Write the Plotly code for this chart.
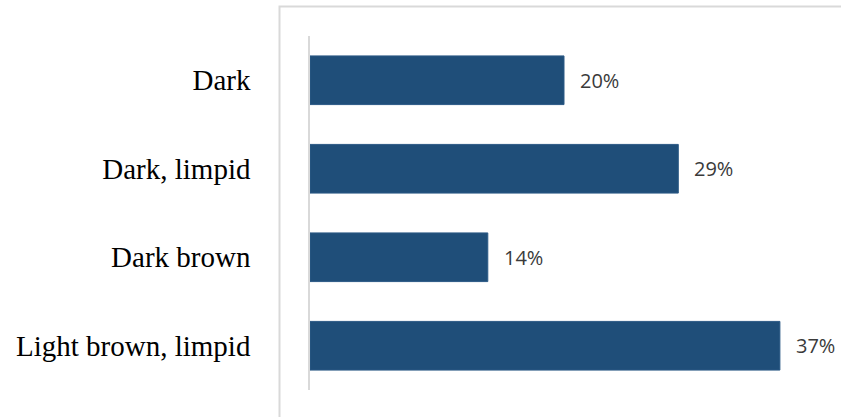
import plotly.graph_objects as go

# Colour categories and their shares (percent)
categories = ["Dark", "Dark, limpid", "Dark brown", "Light brown, limpid"]
shares = [20, 29, 14, 37]
labels = [f"{v}%" for v in shares]

BAR_COLOR = "#1F4E79"
GRID_GRAY = "#D9D9D9"

W, H = 841, 417
L, R, T, B = 310, 23, 36, 27
plot_w = W - L - R
plot_h = H - T - B

fig = go.Figure(
    go.Bar(
        x=shares,
        y=categories,
        orientation="h",
        marker=dict(color=BAR_COLOR, line=dict(color="#2C5A86", width=1)),
        hoverinfo="skip",
    )
)

# Percentage labels to the right of each bar
for cat, val, lab in zip(categories, shares, labels):
    fig.add_annotation(
        x=val, y=cat, text=lab, showarrow=False,
        xanchor="left", yanchor="middle", xshift=14,
        font=dict(family="Open Sans", size=20, color="#3A3A3A"),
    )

# Light frame around the chart area
fig.add_shape(
    type="rect", xref="paper", yref="paper",
    x0=(279.5 - L) / plot_w, x1=1.2,
    y0=-0.3, y1=1 + (T - 6.5) / plot_h,
    line=dict(color=GRID_GRAY, width=2),
    layer="below",
)

fig.update_layout(
    width=W, height=H,
    margin=dict(l=L, r=R, t=T, b=B),
    paper_bgcolor="white", plot_bgcolor="white",
    bargap=0.45,
    showlegend=False,
    xaxis=dict(range=[0, 40], visible=False, fixedrange=True),
    yaxis=dict(
        categoryorder="array", categoryarray=categories[::-1],
        showline=True, linecolor=GRID_GRAY, linewidth=1.5,
        ticks="", showgrid=False, zeroline=False,
        ticklabelstandoff=52,
        tickfont=dict(family="Liberation Serif", size=29, color="#000000"),
    ),
)

fig.write_html("out.html")
